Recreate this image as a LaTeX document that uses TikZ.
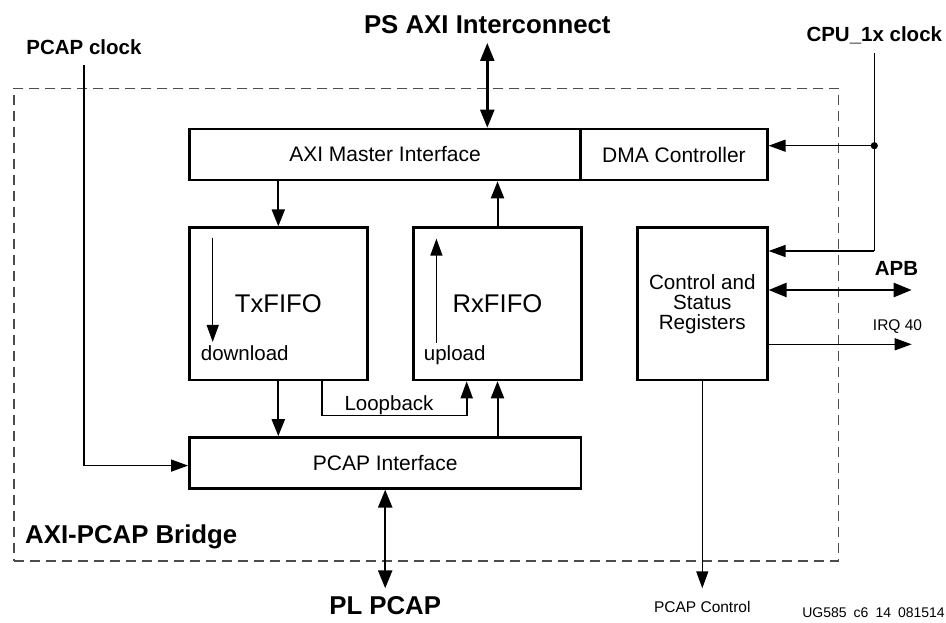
\documentclass[tikz,border=0pt]{standalone}
\usepackage{fontspec}
\setmainfont{Liberation Sans}
\usetikzlibrary{arrows.meta,calc,positioning}
\newcommand{\pxsize}[1]{\fontsize{#1}{#1}\selectfont}

\begin{document}
\begin{tikzpicture}[
  x=1pt, y=-1pt,
  blk/.style={rectangle, draw, line width=2.6pt, inner sep=0pt, font=\pxsize{21}},
  bar/.style={blk, minimum height=51pt},
  fifo/.style={blk, minimum height=152.3pt, font=\pxsize{25.6}},
  lbl/.style={inner sep=0pt, font=\pxsize{20.5}},
  tag/.style={inner sep=0pt, font=\bfseries\pxsize{20.5}},
  title/.style={inner sep=0pt, font=\bfseries\pxsize{25.8}},
  note/.style={inner sep=0pt, font=\pxsize{15.5}},
  arrow/.style={-{Triangle[length=17pt,width=13pt]}, line width=2pt},
  thin arrow/.style={-{Triangle[length=17pt,width=12pt]}, line width=1.4pt},
  dblarrow/.style={{Triangle[length=18pt,width=14pt]}-{Triangle[length=18pt,width=14pt]}, line width=2.4pt},
  bridge/.style={draw=black!70, line width=1.3pt, dash pattern=on 10pt off 6pt},
]
\useasboundingbox (0,0) rectangle (946,623);

% === bridge outline ===
\node[bridge, minimum width=824.3pt, minimum height=472.7pt] (bridgebox) at (426.15,324.65) {};
\node[title, anchor=base west] (bridgelbl) at (25,543.3) {AXI-PCAP Bridge};

% === blocks ===
\node[bar, minimum width=391.4pt] (axi) at (385,154.5) {AXI Master Interface};
\node[bar, minimum width=186.6pt] (dma) at (674,154.5) {DMA Controller};
\node[fifo, minimum width=178pt]   (tx)  at (278.3,303.8) {TxFIFO};
\node[fifo, minimum width=168.4pt] (rx)  at (497.5,303.8) {RxFIFO};
\node[blk, minimum width=130pt, minimum height=152.3pt, align=center, font=\fontsize{20.6}{20}\selectfont]
  (csr) at (702.3,303.8) {Control and\\Status\\Registers};
\node[bar, minimum width=391.7pt, minimum height=50.8pt] (pcap) at (385.2,462.9) {PCAP Interface};

% inside the FIFOs
\draw[thin arrow] ($(tx.north west)+(24.7,11.3)$) -- ($(tx.north west)+(24.7,115.6)$);
\node[lbl, anchor=base west] (down) at ($(tx.north west)+(12.7,134.3)$) {download};
\draw[thin arrow] ($(rx.north west)+(24.4,116.3)$) -- ($(rx.north west)+(24.4,12.3)$);
\node[lbl, anchor=base west] (up) at ($(rx.north west)+(11.7,134.3)$) {upload};

% === data paths ===
\draw[arrow] (axi.south -| tx.north) -- (tx.north);
\draw[arrow] (rx.north) -- (rx.north |- axi.south);
\draw[arrow] (tx.south) -- (tx.south |- pcap.north);
\draw[arrow] (rx.south |- pcap.north) -- (rx.south);
\draw[thin arrow, line width=1.7pt] ([xshift=43.4pt]tx.south) -- ++(0,34.3) -| ([xshift=-30.8pt]rx.south);
\node[lbl, anchor=base] (loop) at (389,410) {Loopback};

\node[title, anchor=base] (psaxi) at (487.3,34) {PS AXI Interconnect};
\draw[dblarrow] ([yshift=-9pt]psaxi.base) -- (psaxi.base |- axi.north);
\node[title, anchor=base] (plpcap) at (385.2,614) {PL PCAP};
\draw[dblarrow] (pcap.south) -- ([yshift=25.7pt]plpcap.base);

% === clocks ===
\node[tag, anchor=base] (pclk) at (84,54.3) {PCAP clock};
\draw[thin arrow] ([yshift=-10.7pt]pclk.base) |- ([yshift=-2.7pt]pcap.west);

\node[tag, anchor=base] (cpu) at (874.3,42) {CPU\_1x clock};
\coordinate (br) at (874.3,145.7);
\coordinate (cpubend) at (874.3,251);
\draw[line width=1.4pt] ([yshift=-11pt]cpu.base) -- (cpubend);
\draw[thin arrow] (br) -- (br -| dma.east);
\draw[thin arrow] (cpubend) -- (cpubend -| csr.east);
\fill (br) circle (3.6pt);

% === register side ===
\node[tag, anchor=base] (apb) at (896.5,276) {APB};
\coordinate (apbend) at (911.7,290);
\draw[dblarrow] (apbend -| csr.east) -- (apbend);
\node[note, anchor=base] (irq) at (897.5,330.7) {IRQ 40};
\coordinate (irqend) at (911.7,344.3);
\draw[thin arrow] (irqend -| csr.east) -- (irqend);
\node[note, anchor=base] (pcapctl) at (702.3,612.5) {PCAP Control};
\draw[thin arrow] (csr.south) -- ([yshift=24.2pt]pcapctl.base);

\node[inner sep=0pt, font=\pxsize{14}, anchor=base east] (fig) at (945,617)
  {UG585\hspace{0.5em}c6\hspace{0.5em}14\hspace{0.5em}081514};
\end{tikzpicture}
\end{document}
